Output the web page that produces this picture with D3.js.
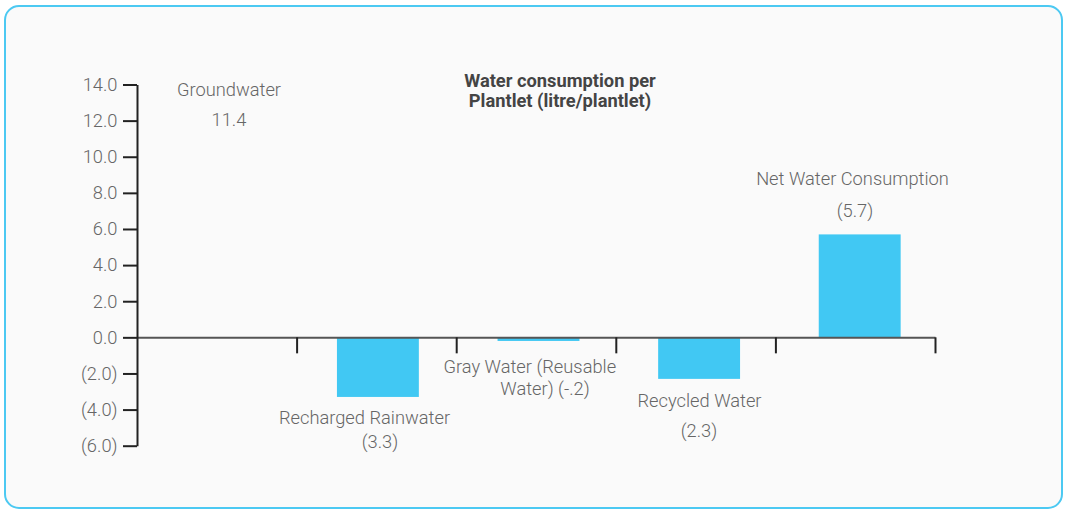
<!DOCTYPE html>
<html>
<head>
<meta charset="utf-8">
<script src="https://cdn.jsdelivr.net/npm/d3@7/dist/d3.min.js"></script>
<style>
  html, body { margin: 0; padding: 0; background: #ffffff; }
  svg { display: block; }
  text { font-family: Roboto, "Noto Sans", sans-serif; }
</style>
</head>
<body>
<svg id="chart" width="1066" height="511"></svg>
<script>
// ---- data ----
const categories = ["Groundwater", "Recharged Rainwater", "Gray Water", "Recycled Water", "Net Water Consumption"];
const values = [11.4, -3.3, -0.2, -2.3, 5.7];
const labelLines = [
  ["Groundwater", "11.4"],
  ["Recharged Rainwater", "(3.3)"],
  ["Gray Water (Reusable", "Water) (-.2)"],
  ["Recycled Water", "(2.3)"],
  ["Net Water Consumption", "(5.7)"]
];
const yTickValues = [-6, -4, -2, 0, 2, 4, 6, 8, 10, 12, 14];
const titleLines = ["Water consumption per", "Plantlet (litre/plantlet)"];

// ---- layout ----
const W = 1066, H = 511;
const plot = { left: 137, right: 935, top: 84.5, bottom: 445.7 };
const panelBg = "#fafafa";
const barColor = "#41c8f3";
const textColor = "#666666";
const fontSize = 18.3;
// label line offsets [dx, dy] from the bar's centre and its value end
const labelOffsets = [
  [[11.7, -35.8], [11.7, -5.8]],
  [[-13.4, 27.1], [2.1, 51.4]],
  [[-8.7, 32.4], [6.5, 54.1]],
  [[0.4, 27.8], [-0.1, 57.8]],
  [[-7.2, -49.4], [-4.7, -17.7]]
];

const svg = d3.select("#chart");

// rounded panel
svg.append("rect")
  .attr("x", 5).attr("y", 6)
  .attr("width", 1057).attr("height", 502)
  .attr("rx", 14).attr("ry", 14)
  .attr("fill", panelBg)
  .attr("stroke", "#4cc9f2")
  .attr("stroke-width", 2);

// scales
const y = d3.scaleLinear().domain([-6, 14]).range([plot.bottom, plot.top]);
const xBar = d3.scaleBand().domain(categories)
  .range([plot.left, 940]).paddingInner(0.49).paddingOuter(0.245);
const xDiv = d3.scaleLinear().domain([0, categories.length]).range([plot.left, plot.right]);

// bars (the groundwater source bar is drawn in the panel colour)
svg.append("g").selectAll("rect")
  .data(categories)
  .join("rect")
  .attr("x", d => xBar(d))
  .attr("width", xBar.bandwidth())
  .attr("y", (d, i) => y(Math.max(0, values[i])))
  .attr("height", (d, i) => Math.abs(y(values[i]) - y(0)))
  .attr("fill", (d, i) => i === 0 ? panelBg : barColor);

// x axis along zero, with dividers between categories
const xAxis = d3.axisBottom(xDiv)
  .tickValues(d3.range(1, categories.length + 1))
  .tickFormat("")
  .tickSize(16)
  .tickSizeOuter(0);
const gx = svg.append("g")
  .attr("transform", `translate(0,${y(0)})`)
  .call(xAxis);
gx.select(".domain").attr("stroke", "#555").attr("stroke-width", 2);
gx.selectAll(".tick line").attr("stroke", "#222").attr("stroke-width", 2);

// y axis
const fmt = v => v < 0 ? `(${Math.abs(v).toFixed(1)})` : v.toFixed(1);
const yAxis = d3.axisLeft(y)
  .tickValues(yTickValues)
  .tickFormat(fmt)
  .tickSize(14)
  .tickSizeOuter(0)
  .tickPadding(5.5);
const gy = svg.append("g")
  .attr("transform", `translate(${plot.left},0)`)
  .call(yAxis);
gy.select(".domain").attr("stroke", "#222").attr("stroke-width", 2);
gy.selectAll(".tick line").attr("stroke", "#222").attr("stroke-width", 2);
gy.selectAll(".tick text")
  .attr("fill", textColor)
  .attr("font-size", fontSize)
  .attr("font-weight", 300)
  .style("font-family", "Roboto, sans-serif");

// category labels
const labels = svg.append("g");
categories.forEach((c, i) => {
  const cx = xBar(c) + xBar.bandwidth() / 2;
  const ey = y(values[i]);
  labelLines[i].forEach((line, j) => {
    const [dx, dy] = labelOffsets[i][j];
    labels.append("text")
      .attr("x", cx + dx)
      .attr("y", ey + dy)
      .attr("text-anchor", "middle")
      .attr("fill", textColor)
      .attr("font-size", fontSize)
      .attr("font-weight", 300)
      .text(line);
  });
});

// title
svg.append("g").selectAll("text")
  .data(titleLines)
  .join("text")
  .attr("x", 560)
  .attr("y", (d, i) => 86.7 + i * 20)
  .attr("text-anchor", "middle")
  .attr("fill", "#444")
  .attr("font-size", 18.3)
  .attr("font-weight", 700)
  .text(d => d);
</script>
</body>
</html>
